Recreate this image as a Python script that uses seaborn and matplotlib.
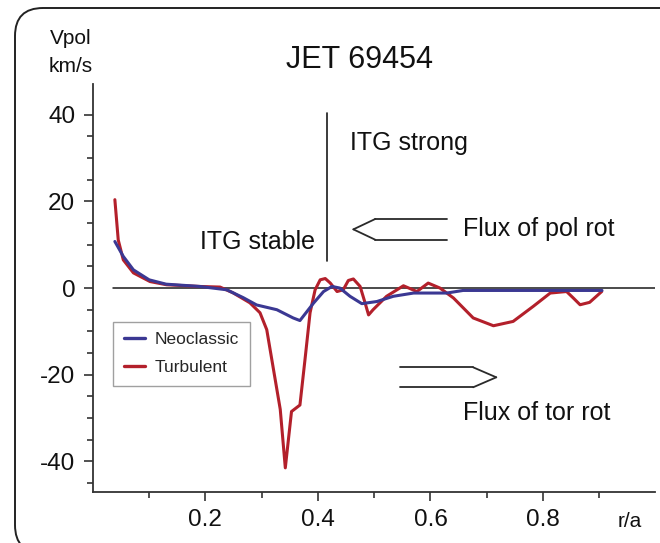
import matplotlib
matplotlib.use("Agg")
import matplotlib.pyplot as plt
import seaborn as sns
import pandas as pd
from matplotlib.patches import FancyBboxPatch

sns.set_theme(style="white")
plt.rcParams['font.family'] = ['Liberation Sans', 'DejaVu Sans']

# ---------------- data ----------------
neo_x = [0.039, 0.054, 0.072, 0.10, 0.13, 0.19, 0.238, 0.267, 0.291, 0.327, 0.356,
         0.368, 0.392, 0.41, 0.425, 0.439, 0.457, 0.478, 0.505, 0.534, 0.57, 0.629,
         0.658, 0.905]
neo_y = [10.75, 7.3, 4.2, 1.9, 0.9, 0.37, -0.4, -2.2, -3.9, -5.0, -6.9,
         -7.5, -3.5, -0.8, 0.37, 0.0, -1.9, -3.6, -3.1, -1.9, -1.15, -1.15,
         -0.55, -0.55]

turb_x = [0.039, 0.045, 0.054, 0.072, 0.1015, 0.131, 0.19, 0.226, 0.249, 0.279, 0.297,
          0.309, 0.333, 0.342, 0.353, 0.368, 0.377, 0.386, 0.395, 0.404, 0.413, 0.422,
          0.434, 0.445, 0.454, 0.463, 0.475, 0.484, 0.49, 0.498, 0.522, 0.552, 0.576,
          0.596, 0.617, 0.641, 0.676, 0.712, 0.747, 0.783, 0.813, 0.842, 0.854, 0.866,
          0.883, 0.9045]
turb_y = [20.4, 11.1, 6.5, 3.5, 1.5, 0.76, 0.37, 0.23, -1.1, -3.4, -5.7,
          -9.6, -28.0, -41.5, -28.5, -27.0, -16.5, -5.7, -0.4, 1.9, 2.2, 1.15,
          -0.8, -0.4, 1.75, 2.1, 0.37, -3.5, -6.2, -5.0, -1.9, 0.53, -0.8,
          1.15, 0.0, -2.3, -6.9, -8.7, -7.7, -4.2, -1.15, -0.8, -2.3, -3.85,
          -3.3, -0.8]

series_names = ['Neoclassic', 'Turbulent']
series_colors = ['#3b3893', '#b3202b']

x_major = [0.2, 0.4, 0.6, 0.8]
x_major_labels = ['0.2', '0.4', '0.6', '0.8']
x_minor = [0.1, 0.3, 0.5, 0.7, 0.9]
y_major = [-40, -20, 0, 20, 40]
y_major_labels = ['-40', '-20', '0', '20', '40']
y_minor = [-45, -35, -30, -25, -15, -10, -5, 5, 10, 15, 25, 30, 35]

title = 'JET 69454'
ylabel_lines = ['Vpol', 'km/s']
xlabel = 'r/a'

# annotation geometry (data coords)
zero_line_x = [0.036, 1.0]
divider_x = 0.416
divider_y = [6.3, 40.5]
labels_text = ['ITG strong', 'ITG stable', 'Flux of pol rot', 'Flux of tor rot']
labels_x = [0.457, 0.19, 0.657, 0.657]
labels_y = [33.5, 10.7, 13.7, -28.8]
# arrows: tip_x, head_base_x, tail_x, centre_y, half width
arrow_pol = [0.463, 0.502, 0.629, 13.55, 2.4]
arrow_tor = [0.717, 0.676, 0.546, -20.6, 2.3]

# ---------------- figure ----------------
fig = plt.figure(figsize=(6.6, 5.43), dpi=100)
fig.patch.set_facecolor('white')

frame = FancyBboxPatch((0.15, -0.1), 6.8, 5.45,
                       boxstyle="round,pad=0,rounding_size=0.28",
                       transform=fig.dpi_scale_trans, fill=False,
                       ec='#222222', lw=1.4, zorder=0)
fig.add_artist(frame)

ax = fig.add_axes([0.1408, 0.0945, 0.8523, 0.7508])
ax.set_facecolor('none')

df_neo = pd.DataFrame({'r': neo_x, 'v': neo_y, 'model': series_names[0]})
df_turb = pd.DataFrame({'r': turb_x, 'v': turb_y, 'model': series_names[1]})

# zero line
ax.plot(zero_line_x, [0, 0], color='#1a1a1a', lw=1.1, zorder=1)
# divider
ax.plot([divider_x, divider_x], divider_y, color='#1a1a1a', lw=1.2, zorder=1)

sns.lineplot(data=df_turb, x='r', y='v', color=series_colors[1], lw=2.2,
             sort=False, estimator=None, ax=ax, label=series_names[1], zorder=3)
sns.lineplot(data=df_neo, x='r', y='v', color=series_colors[0], lw=2.2,
             sort=False, estimator=None, ax=ax, label=series_names[0], zorder=4)

ax.set_xlim(0, 1.0)
ax.set_ylim(-47, 47.1)

for s in ['top', 'right']:
    ax.spines[s].set_visible(False)
for s in ['left', 'bottom']:
    ax.spines[s].set_color('#333333')
    ax.spines[s].set_linewidth(1.3)

ax.set_xticks(x_major)
ax.set_xticklabels(x_major_labels)
ax.set_xticks(x_minor, minor=True)
ax.set_yticks(y_major)
ax.set_yticklabels(y_major_labels)
ax.set_yticks(y_minor, minor=True)
ax.tick_params(axis='both', which='major', direction='out', length=6.7, width=1.2,
               color='#333333', labelsize=17.5, labelcolor='#111111', pad=6,
               bottom=True, left=True)
ax.tick_params(axis='both', which='minor', direction='out', length=4.5, width=1.2,
               color='#333333', bottom=True, left=True)
ax.set_xlabel('')
ax.set_ylabel('')

# texts
for t, tx, ty in zip(labels_text, labels_x, labels_y):
    ax.text(tx, ty, t, fontsize=18, ha='left', va='center', color='#111111')


def hollow_arrow(spec):
    tip, base, tail, yc, hw = spec
    for yy in (yc + hw, yc - hw):
        ax.plot([tail, base], [yy, yy], color='#2a2a2a', lw=1.3, zorder=2)
        ax.plot([base, tip], [yy, yc], color='#2a2a2a', lw=1.3, zorder=2)


hollow_arrow(arrow_pol)
hollow_arrow(arrow_tor)

ax.text(0.955, -0.072, xlabel, transform=ax.transAxes, fontsize=15,
        ha='center', va='center', color='#111111')
fig.text(0.545, 0.889, title, fontsize=22, ha='center', va='center', color='#111111')
fig.text(0.107, 0.930, ylabel_lines[0], fontsize=15, ha='center', va='center', color='#111111')
fig.text(0.107, 0.877, ylabel_lines[1], fontsize=15, ha='center', va='center', color='#111111')

handles, labs = ax.get_legend_handles_labels()
order = [labs.index(n) for n in series_names]
leg = ax.legend([handles[i] for i in order], [labs[i] for i in order],
                loc='upper left', bbox_to_anchor=(0.036, 0.417), borderaxespad=0,
                fontsize=12.5, frameon=True, fancybox=False, edgecolor='#888888',
                handlelength=1.25, handletextpad=0.55, borderpad=0.6, labelspacing=0.75)
leg.get_frame().set_linewidth(1.0)
for l in leg.get_lines():
    l.set_linewidth(2.4)

fig.savefig('out.png', dpi=100, facecolor='white')
